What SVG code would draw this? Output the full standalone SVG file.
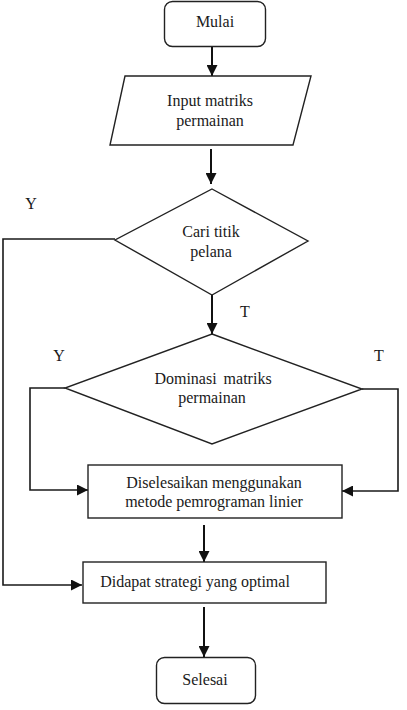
<svg xmlns="http://www.w3.org/2000/svg" width="407" height="710" viewBox="0 0 407 710">
<style>
.s{fill:#fff;stroke:#222;stroke-width:1.4}
.t{font-family:"Liberation Serif","Times New Roman",serif;font-size:16px;fill:#1a1a1a;text-anchor:middle}
.l{font-family:"Liberation Serif","Times New Roman",serif;font-size:16px;fill:#1a1a1a;text-anchor:middle}
.c{fill:none;stroke:#1a1a1a;stroke-width:1.6}
.v{fill:none;stroke:#111;stroke-width:2}
</style>
<defs>
<marker id="a" viewBox="0 0 10 10" refX="10" refY="5" markerWidth="11" markerHeight="11" markerUnits="userSpaceOnUse" orient="auto">
<path d="M0,0 L10,5 L0,10 Z" fill="#111"/>
</marker>
</defs>
<rect width="407" height="710" fill="#fff"/>
<g id="connectors">
<line class="v" x1="212" y1="47" x2="212" y2="76" marker-end="url(#a)"/>
<line class="v" x1="211" y1="149" x2="211" y2="184" marker-end="url(#a)"/>
<line class="v" x1="212" y1="295" x2="212" y2="334" marker-end="url(#a)"/>
<polyline class="c" points="115,239 3,239 3,585 82,585" marker-end="url(#a)"/>
<polyline class="c" points="65,388 30,388 30,490 88,490" marker-end="url(#a)"/>
<polyline class="c" points="362,389 398,389 398,491 342,491" marker-end="url(#a)"/>
<line class="v" x1="204" y1="525" x2="204" y2="562" marker-end="url(#a)"/>
<line class="v" x1="204" y1="607" x2="204" y2="657" marker-end="url(#a)"/>
<text class="l" x="31" y="209">Y</text>
<text class="l" x="245" y="317">T</text>
<text class="l" x="59" y="361">Y</text>
<text class="l" x="379" y="361">T</text>
</g>
<g id="mulai">
<rect class="s" x="164.5" y="1.5" width="101" height="45" rx="8"/>
<text class="t" x="215" y="27">Mulai</text>
</g>
<g id="input">
<polygon class="s" points="125,76 311,76 293,145 110,145"/>
<text class="t" x="210" y="106">Input matriks</text>
<text class="t" x="210" y="126">permainan</text>
</g>
<g id="titik-pelana">
<polygon class="s" points="212,189 308,241 212,295 115,240"/>
<text class="t" x="211" y="237">Cari titik</text>
<text class="t" x="211" y="257">pelana</text>
</g>
<g id="dominasi">
<polygon class="s" points="212,334 362,389 212,444 65,388"/>
<text class="t" x="213" y="384" word-spacing="3">Dominasi matriks</text>
<text class="t" x="212" y="403">permainan</text>
</g>
<g id="pemrograman">
<rect class="s" x="88" y="465" width="254" height="53"/>
<text class="t" x="214" y="488">Diselesaikan menggunakan</text>
<text class="t" x="214" y="507">metode pemrograman linier</text>
</g>
<g id="strategi">
<rect class="s" x="83" y="562" width="243" height="41"/>
<text class="t" x="195" y="587">Didapat strategi yang optimal</text>
</g>
<g id="selesai">
<rect class="s" x="156.5" y="657.5" width="99" height="46" rx="8"/>
<text class="t" x="205" y="685">Selesai</text>
</g>
</svg>
